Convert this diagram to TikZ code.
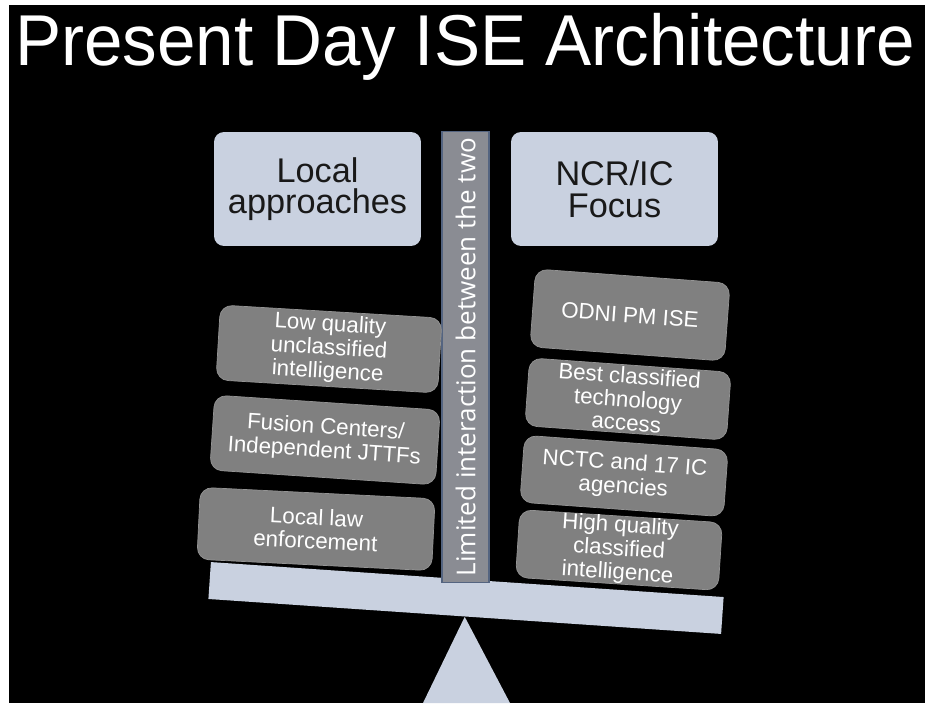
\documentclass[tikz,border=0pt]{standalone}
\usepackage{fontspec}
\setmainfont{Liberation Sans}
\newfontfamily\titlefont[FakeStretch=0.96]{Liberation Sans}
\newfontfamily\barfont{Open Sans}
\usetikzlibrary{positioning}

\definecolor{paleblue}{RGB}{201,209,224}
\definecolor{boxgray}{RGB}{128,128,128}
\definecolor{bargray}{RGB}{138,140,147}
\definecolor{baredge}{RGB}{84,100,128}

\begin{document}
\begin{tikzpicture}[x=0.02cm, y=-0.02cm,
      headline/.style={text=white, inner sep=0pt, font=\titlefont\fontsize{41}{41}\selectfont},
      headbox/.style={fill=paleblue, rounded corners=0.2cm, minimum width=4.14cm, minimum height=2.28cm, align=center, text=black!90, font=\fontsize{19.5}{18}\selectfont},
      itembox/.style={fill=boxgray, draw=black!42, rounded corners=0.24cm, align=center, text=white, inner sep=0pt, font=\fontsize{12.7}{13.4}\selectfont},
      divider/.style={fill=bargray, draw=baredge, line width=0.6pt, minimum width=0.94cm, minimum height=9.04cm, inner sep=0pt},
      dividertext/.style={text=white, inner sep=0pt, font=\barfont\fontsize{14.8}{14.8}\selectfont},
      beam/.style={fill=paleblue, minimum width=10.28cm, minimum height=0.74cm, inner sep=0pt}
    ]
    \useasboundingbox (0,0) rectangle (925,703);
    \fill[white] (0,0) rectangle (925,703);
    \fill[black] (9,5) rectangle (925,703);

    \node[headline, anchor=base] (title) at (465,65) {Present Day ISE Architecture};

    % the seesaw
    \node[beam, rotate=-3.9] (plank) at (466,598) {};
    \fill[paleblue] (plank.south) -- (423,703) -- (510,703) -- cycle;

    \node[divider] (divide) at (465.5,357) {};
    \node[dividertext, rotate=90] (dividelabel) at (divide.center) {Limited interaction between the two};

    \node[headbox] (local) at (317.5,189) {Local\\approaches};
    \node[headbox] (ncric) at (614.5,189) {NCR/IC\\Focus};

    % weights on both sides
    \foreach \ix/\iy/\iw/\ih/\ia/\itext [count=\i] in {%
        329/349/222/75/-3.4/{Low quality\\unclassified\\intelligence},
        325/440/226/75/-3.8/{Fusion Centers/\\Independent JTTFs},
        316/529/235/72/-2.8/{Local law\\enforcement},
        630/315/195/78/-4.2/{ODNI PM ISE},
        628/399/202/68/-4.1/{Best classified\\technology\\access},
        624/476/204/67/-4.1/{NCTC and 17 IC\\agencies},
        619/550/203/67/-3.7/{High quality\\classified\\intelligence}}{%
      \node[itembox, rotate=\ia, minimum width=\iw*0.02cm, minimum height=\ih*0.02cm] (item\i) at (\ix,\iy) {\itext};
    }
  \end{tikzpicture}
\end{document}
